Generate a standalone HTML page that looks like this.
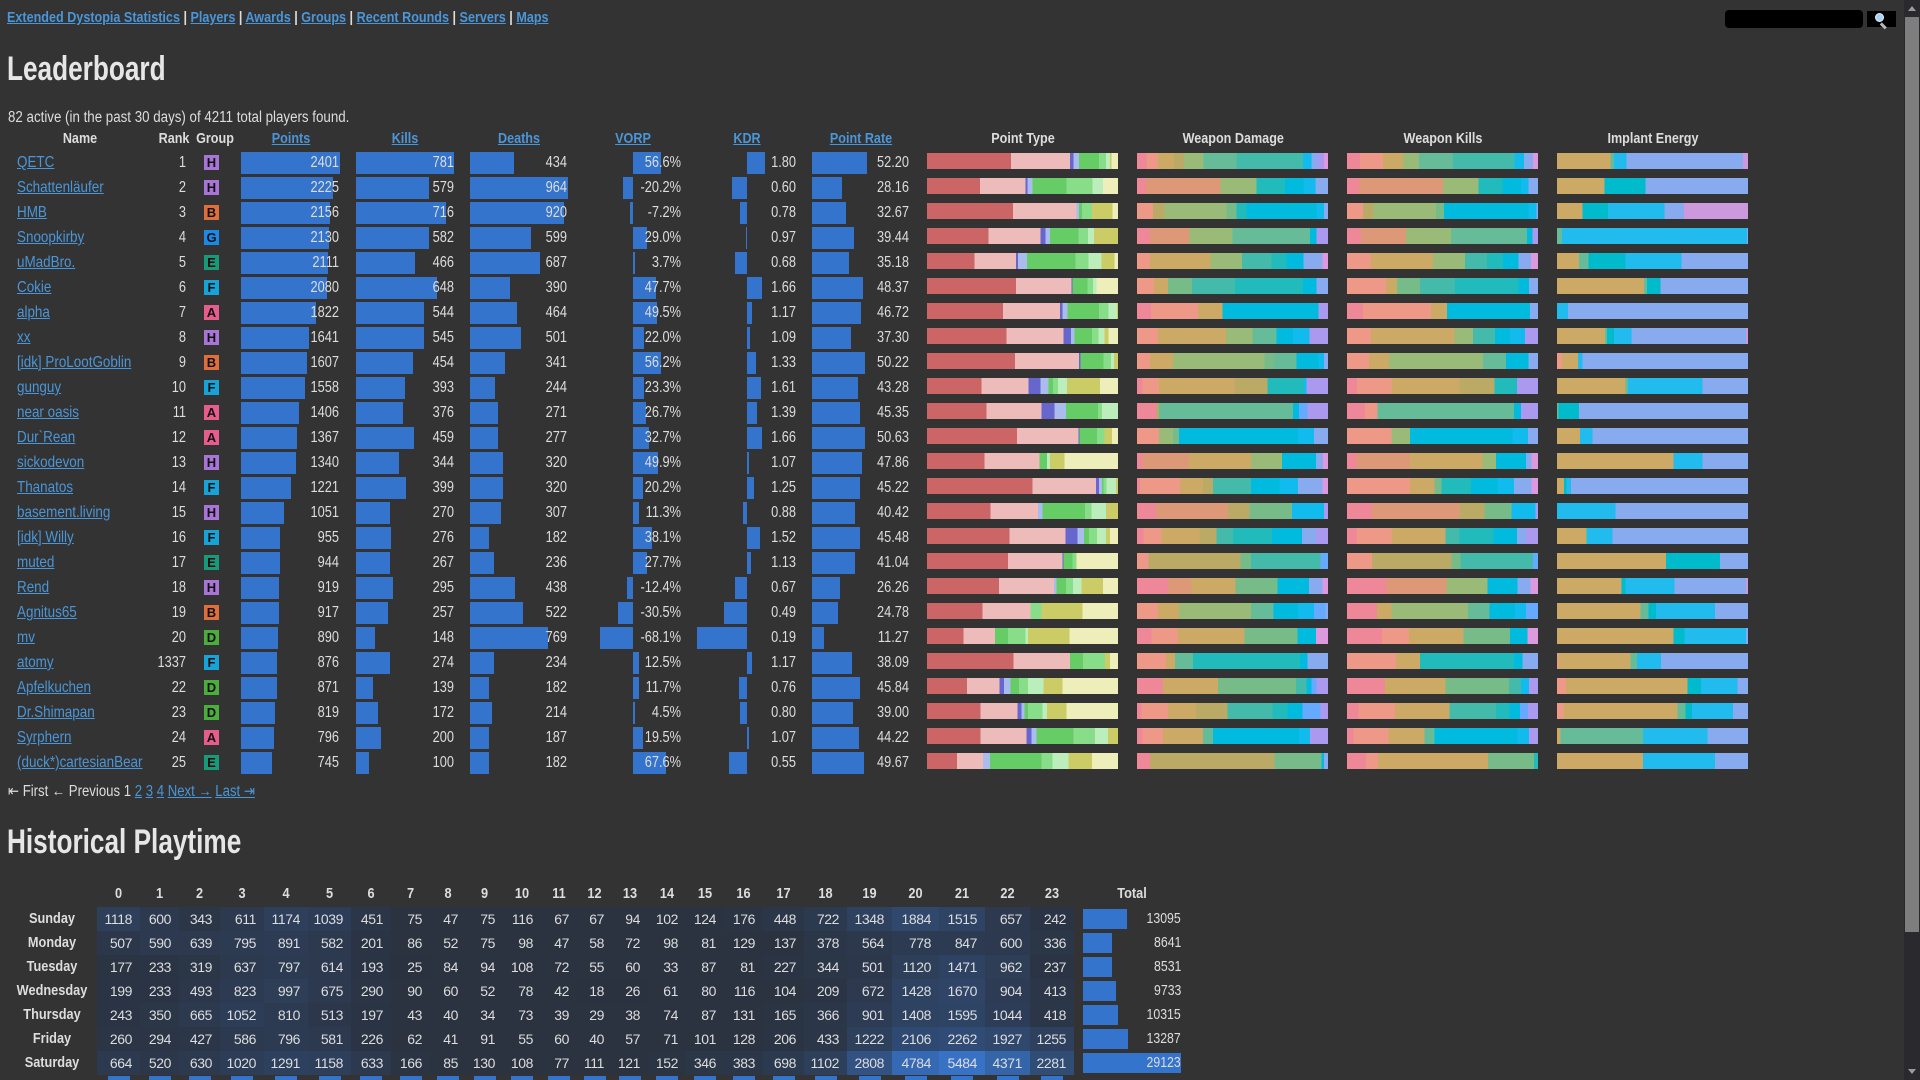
<!DOCTYPE html>
<html><head><meta charset="utf-8"><title>Leaderboard</title>
<style>
*{box-sizing:border-box}
html,body{margin:0;padding:0;overflow:hidden;width:1920px;height:1080px;background:#333}
#w{position:relative;width:1920px;height:1080px;overflow:hidden;background:#333;color:#ddd;font-family:"Liberation Sans","DejaVu Sans",sans-serif}
a{color:#4a96d8;text-decoration:underline}
.nav{position:absolute;left:7px;top:8px;line-height:20px;font-size:15px;font-weight:bold;white-space:nowrap;color:#ddd;transform:scaleX(.84);transform-origin:0 50%}
.h1{position:absolute;left:7px;font-size:34px;font-weight:bold;line-height:40px;color:#e6e6e6;white-space:nowrap;transform:scaleX(.77);transform-origin:0 50%}
.info{position:absolute;left:8px;top:108px;line-height:20px;font-size:15.5px;white-space:nowrap;transform:scaleX(.86);transform-origin:0 50%}
.hd{position:absolute;left:0;top:126px;width:1904px;height:25px;line-height:25px;font-size:15px;font-weight:bold;white-space:nowrap}
.hd>*{position:absolute;top:0;width:120px;text-align:center;transform:scaleX(.84)}
.r{position:absolute;left:0;width:1904px;height:25px;line-height:25px;font-size:16px;white-space:nowrap}
.r>*{position:absolute;top:0}
.r a{left:17px;font-size:16px;transform:scaleX(.84);transform-origin:0 50%}
.r span{text-align:right;transform:scaleX(.8);transform-origin:100% 50%}
.r b{top:2px;height:22px;background:#3474cc}
.r i{top:3px;height:16px;width:191px}
.k{left:146px;width:40px}
.r .g{left:204px;top:5px;width:15px;height:15px;line-height:16px;font-size:13px;font-weight:bold;color:#111;text-align:center;transform:none}
.H{background:#a875d6}.B{background:#de6f3d}.G{background:#1a8ae6}.E{background:#17997a}.F{background:#17a2d8}.A{background:#e65c8c}.D{background:#4aad3c}
.c1{left:241px}.x1{left:241px;width:98px}
.c2{left:356px}.x2{left:356px;width:98px}
.c3{left:470px}.x3{left:470px;width:97px}
.x4{left:590px;width:91px}
.x5{left:700px;width:96px}
.c6{left:812px}.x6{left:812px;width:97px}
.s1{left:927px}.s2{left:1137px}.s3{left:1347px}.s4{left:1557px}
.pg{position:absolute;left:8px;top:779px;line-height:25px;font-size:15.5px;white-space:nowrap;transform:scaleX(.85);transform-origin:0 50%}
.grid{position:absolute;left:97px;display:grid;grid-template-columns:43px 39px 41px 44px 44px 43px 40px 39px 36px 37px 38px 36px 35px 36px 38px 38px 39px 41px 43px 45px 47px 46px 45px 44px;grid-auto-rows:24px;font-size:15px;line-height:24px}
.hh{top:882px;font-weight:bold}
.hh>div{text-align:center;transform:scaleX(.85)}
.hm{top:907px;background:#2b323f}
.hm i{font-style:normal;text-align:right;padding-right:8px;font-size:14px;letter-spacing:-.4px;background:rgba(56,114,196,var(--a,0))}
.days{position:absolute;left:0;top:907px;width:104px;font-size:15px;font-weight:bold;line-height:24px;text-align:center}
.days div{transform:scaleX(.85)}
.tot{position:absolute;left:1083px;top:882px;width:98px;font-size:15px;line-height:24px}
.tot div{position:relative;height:24px;text-align:right}
.tot b{position:absolute;left:0;top:2px;height:20px;background:#3474cc}
.tot span{position:relative;display:inline-block;transform:scaleX(.82);transform-origin:100% 50%}
.bot{top:1076px}
.bot>div{display:flex;justify-content:center}
.bot b{width:22px;height:4px;background:#3474cc;display:block}
</style></head>
<body><div id="w">
<div class="nav"><a>Extended Dystopia Statistics</a> | <a>Players</a> | <a>Awards</a> | <a>Groups</a> | <a>Recent Rounds</a> | <a>Servers</a> | <a>Maps</a></div>

<div style="position:absolute;left:1725px;top:10px;width:138px;height:18px;background:#000;border-radius:4px"></div>
<div style="position:absolute;left:1867px;top:11px;width:29px;height:16px;background:#000"></div>
<div style="position:absolute;left:1875px;top:13px;width:9px;height:9px;border-radius:50%;background:#a8d4f4;border:1.5px solid #dff0fc"></div>
<div style="position:absolute;left:1881px;top:22px;width:7px;height:2.5px;background:#b8b8b8;transform:rotate(45deg);transform-origin:0 50%"></div>

<div style="position:absolute;left:1904px;top:0;width:16px;height:1080px;background:#2a2a2e"></div>
<div style="position:absolute;left:1905px;top:17px;width:14px;height:915px;background:#7e7e7e"></div>
<div style="position:absolute;left:1908px;top:6px;width:0;height:0;border-left:4px solid transparent;border-right:4px solid transparent;border-bottom:5px solid #9a9a9a"></div>
<div style="position:absolute;left:1908px;top:1069px;width:0;height:0;border-left:4px solid transparent;border-right:4px solid transparent;border-top:5px solid #9a9a9a"></div>

<div class="h1" style="top:49px">Leaderboard</div>
<div class="info">82 active (in the past 30 days) of 4211 total players found.</div>

<div class="hd">
<div style="left:20px">Name</div><div style="left:114px">Rank</div><div style="left:155px">Group</div>
<div style="left:231px"><a>Points</a></div><div style="left:345px"><a>Kills</a></div><div style="left:459px"><a>Deaths</a></div>
<div style="left:573px"><a>VORP</a></div><div style="left:687px"><a>KDR</a></div><div style="left:801px"><a>Point Rate</a></div>
<div style="left:963px">Point Type</div><div style="left:1173px">Weapon Damage</div><div style="left:1383px">Weapon Kills</div><div style="left:1593px">Implant Energy</div>
</div>

<div class="r" style="top:150px"><a>QETC</a><span class="k">1</span><span class="g H">H</span><b class="c1" style="width:99px"></b><span class="x1">2401</span><b class="c2" style="width:98px"></b><span class="x2">781</span><b class="c3" style="width:44.1px"></b><span class="x3">434</span><b style="left:633px;width:27.7px"></b><span class="x4">56.6%</span><b style="left:747px;width:17.6px"></b><span class="x5">1.80</span><b class="c6" style="width:55px"></b><span class="x6">52.20</span>
<i class="s1" style="background:linear-gradient(90deg,#c66 0 44%,#ebb 0 75%,#66c 0 76.6%,#abe 0 79.6%,#6c6 0 90%,#8d8 0 93.6%,#beb 0 95.8%,#cc6 0 96.6%,#eeb 0)"></i>
<i class="s2" style="background:linear-gradient(90deg,#e89 0 5%,#e98 0 11%,#ca6 0 19.5%,#ba6 0 24.7%,#9b7 0 34.8%,#6b9 0 52%,#4ba 0 87%,#1be 0 91.4%,#8ae 0 94.5%,#a9e 0 98%,#d9d 0)"></i>
<i class="s3" style="background:linear-gradient(90deg,#e89 0 6.7%,#e98 0 18.9%,#ca6 0 29.4%,#9b7 0 37.7%,#6b9 0 55.6%,#4ba 0 87.6%,#1be 0 92.7%,#8ae 0 97.5%,#d9d 0)"></i>
<i class="s4" style="background:linear-gradient(90deg,#ca6 0 28.1%,#6b9 0 29.8%,#2be 0 36.5%,#8ae 0 97.5%,#c9d 0)"></i></div>

<div class="r" style="top:175px"><a>Schattenläufer</a><span class="k">2</span><span class="g H">H</span><b class="c1" style="width:91.7px"></b><span class="x1">2225</span><b class="c2" style="width:72.7px"></b><span class="x2">579</span><b class="c3" style="width:98px"></b><span class="x3">964</span><b style="left:623.1px;width:9.9px"></b><span class="x4">-20.2%</span><b style="left:731.7px;width:15.3px"></b><span class="x5">0.60</span><b class="c6" style="width:29.7px"></b><span class="x6">28.16</span>
<i class="s1" style="background:linear-gradient(90deg,#c66 0 27.7%,#ebb 0 51.7%,#66c 0 52.5%,#abe 0 55.3%,#6c6 0 73%,#8d8 0 86.6%,#beb 0 92.2%,#eeb 0)"></i>
<i class="s2" style="background:linear-gradient(90deg,#e89 0 4.8%,#d97 0 43.6%,#9b7 0 62.5%,#2bb 0 77.6%,#0bd 0 87.2%,#1be 0 93.5%,#8ae 0)"></i>
<i class="s3" style="background:linear-gradient(90deg,#e89 0 6.3%,#d97 0 50.3%,#9b7 0 68.8%,#2bb 0 81.3%,#0bd 0 91.2%,#1be 0 95%,#8ae 0)"></i>
<i class="s4" style="background:linear-gradient(90deg,#ca6 0 24.9%,#0bc 0 46.3%,#8ae 0)"></i></div>

<div class="r" style="top:200px"><a>HMB</a><span class="k">3</span><span class="g B">B</span><b class="c1" style="width:88.9px"></b><span class="x1">2156</span><b class="c2" style="width:89.8px"></b><span class="x2">716</span><b class="c3" style="width:93.5px"></b><span class="x3">920</span><b style="left:629.5px;width:3.5px"></b><span class="x4">-7.2%</span><b style="left:739.5px;width:7.5px"></b><span class="x5">0.78</span><b class="c6" style="width:34.4px"></b><span class="x6">32.67</span>
<i class="s1" style="background:linear-gradient(90deg,#c66 0 45%,#ebb 0 78.4%,#abe 0 79.6%,#6c6 0 81.2%,#8d8 0 86.4%,#cc6 0 97%,#eeb 0)"></i>
<i class="s2" style="background:linear-gradient(90deg,#e98 0 8.4%,#ba6 0 14.3%,#9b7 0 46.8%,#7b8 0 52%,#2bb 0 57.2%,#0bd 0 93.9%,#1be 0 97.9%,#8ae 0)"></i>
<i class="s3" style="background:linear-gradient(90deg,#e98 0 8.4%,#ba6 0 14%,#9b7 0 46.5%,#7b8 0 50.7%,#0bd 0 95%,#1be 0 99.2%,#8ae 0)"></i>
<i class="s4" style="background:linear-gradient(90deg,#ca6 0 13.4%,#0bc 0 26.6%,#2be 0 56.4%,#8ae 0 66.5%,#c9d 0)"></i></div>

<div class="r" style="top:225px"><a>Snoopkirby</a><span class="k">4</span><span class="g G">G</span><b class="c1" style="width:87.8px"></b><span class="x1">2130</span><b class="c2" style="width:73px"></b><span class="x2">582</span><b class="c3" style="width:60.9px"></b><span class="x3">599</span><b style="left:633px;width:14.2px"></b><span class="x4">29.0%</span><b style="left:746px;width:1px"></b><span class="x5">0.97</span><b class="c6" style="width:41.6px"></b><span class="x6">39.44</span>
<i class="s1" style="background:linear-gradient(90deg,#c66 0 32.3%,#ebb 0 59.5%,#66c 0 62%,#abe 0 64.3%,#6c6 0 79.4%,#8d8 0 84.4%,#beb 0 87.4%,#cc6 0)"></i>
<i class="s2" style="background:linear-gradient(90deg,#e89 0 6.9%,#d97 0 27.5%,#9b7 0 50%,#6b9 0 90.6%,#0bd 0 94%,#a9e 0)"></i>
<i class="s3" style="background:linear-gradient(90deg,#e89 0 7.3%,#d97 0 31%,#9b7 0 54.5%,#6b9 0 94.3%,#0bd 0 97%,#a9e 0)"></i>
<i class="s4" style="background:linear-gradient(90deg,#6b9 0 2.5%,#2be 0 99.4%,#8ae 0)"></i></div>

<div class="r" style="top:250px"><a>uMadBro.</a><span class="k">5</span><span class="g E">E</span><b class="c1" style="width:87px"></b><span class="x1">2111</span><b class="c2" style="width:58.5px"></b><span class="x2">466</span><b class="c3" style="width:69.8px"></b><span class="x3">687</span><b style="left:633px;width:1.8px"></b><span class="x4">3.7%</span><b style="left:735.4px;width:11.6px"></b><span class="x5">0.68</span><b class="c6" style="width:37.1px"></b><span class="x6">35.18</span>
<i class="s1" style="background:linear-gradient(90deg,#c66 0 25%,#ebb 0 46.7%,#66c 0 47.7%,#abe 0 52.3%,#6c6 0 77.8%,#8d8 0 84.6%,#beb 0 91.4%,#cc6 0 98.2%,#eeb 0)"></i>
<i class="s2" style="background:linear-gradient(90deg,#e98 0 6.9%,#ca6 0 38.4%,#9b7 0 55.1%,#4ba 0 70.4%,#2bb 0 78.2%,#0bd 0 87.2%,#8ae 0 97%,#d9d 0)"></i>
<i class="s3" style="background:linear-gradient(90deg,#e98 0 12.6%,#ca6 0 45%,#9b7 0 61.8%,#4ba 0 73.4%,#2bb 0 81.8%,#0bd 0 89.7%,#8ae 0 96.4%,#d9d 0)"></i>
<i class="s4" style="background:linear-gradient(90deg,#ca6 0 11.5%,#6b9 0 16.6%,#0bc 0 35.8%,#2be 0 65.2%,#8ae 0)"></i></div>

<div class="r" style="top:275px"><a>Cokie</a><span class="k">6</span><span class="g F">F</span><b class="c1" style="width:85.8px"></b><span class="x1">2080</span><b class="c2" style="width:81.3px"></b><span class="x2">648</span><b class="c3" style="width:39.6px"></b><span class="x3">390</span><b style="left:633px;width:23.4px"></b><span class="x4">47.7%</span><b style="left:747px;width:15.2px"></b><span class="x5">1.66</span><b class="c6" style="width:51px"></b><span class="x6">48.37</span>
<i class="s1" style="background:linear-gradient(90deg,#c66 0 46.5%,#ebb 0 75.6%,#66c 0 76.2%,#6c6 0 84%,#8d8 0 87%,#beb 0 88.8%,#eeb 0)"></i>
<i class="s2" style="background:linear-gradient(90deg,#e98 0 9%,#ca6 0 16.3%,#7b8 0 28.9%,#4ba 0 51.4%,#2bb 0 87%,#0bd 0 94%,#8ae 0)"></i>
<i class="s3" style="background:linear-gradient(90deg,#e98 0 20.3%,#ca6 0 26.2%,#7b8 0 38.2%,#4ba 0 56.6%,#2bb 0 89.7%,#0bd 0 95.4%,#8ae 0)"></i>
<i class="s4" style="background:linear-gradient(90deg,#ca6 0 45.5%,#6b9 0 47.2%,#0bc 0 54.3%,#8ae 0)"></i></div>

<div class="r" style="top:300px"><a>alpha</a><span class="k">7</span><span class="g A">A</span><b class="c1" style="width:75.1px"></b><span class="x1">1822</span><b class="c2" style="width:68.3px"></b><span class="x2">544</span><b class="c3" style="width:47.2px"></b><span class="x3">464</span><b style="left:633px;width:24.3px"></b><span class="x4">49.5%</span><b style="left:747px;width:4.7px"></b><span class="x5">1.17</span><b class="c6" style="width:49.2px"></b><span class="x6">46.72</span>
<i class="s1" style="background:linear-gradient(90deg,#c66 0 39.7%,#ebb 0 69.7%,#66c 0 71%,#abe 0 73.6%,#6c6 0 90%,#8d8 0 95%,#beb 0 99.4%,#cc6 0)"></i>
<i class="s2" style="background:linear-gradient(90deg,#e89 0 7.3%,#e98 0 32%,#ca6 0 44.7%,#0bd 0 95%,#a9e 0)"></i>
<i class="s3" style="background:linear-gradient(90deg,#e89 0 8.4%,#e98 0 44%,#ca6 0 52.4%,#0bd 0 95.8%,#8ae 0)"></i>
<i class="s4" style="background:linear-gradient(90deg,#2be 0 5.7%,#8ae 0)"></i></div>

<div class="r" style="top:325px"><a>xx</a><span class="k">8</span><span class="g H">H</span><b class="c1" style="width:67.7px"></b><span class="x1">1641</span><b class="c2" style="width:68.4px"></b><span class="x2">545</span><b class="c3" style="width:50.9px"></b><span class="x3">501</span><b style="left:633px;width:10.8px"></b><span class="x4">22.0%</span><b style="left:747px;width:2.6px"></b><span class="x5">1.09</span><b class="c6" style="width:39.3px"></b><span class="x6">37.30</span>
<i class="s1" style="background:linear-gradient(90deg,#c66 0 41.7%,#ebb 0 71.5%,#66c 0 75.4%,#abe 0 77.2%,#6c6 0 86.4%,#8d8 0 89.8%,#beb 0 93%,#cc6 0 95%,#eeb 0)"></i>
<i class="s2" style="background:linear-gradient(90deg,#e98 0 11%,#ca6 0 46.7%,#9b7 0 60.4%,#6b9 0 73%,#0bd 0 81.8%,#1be 0 90.2%,#a9e 0)"></i>
<i class="s3" style="background:linear-gradient(90deg,#e98 0 12.6%,#ca6 0 56.2%,#9b7 0 66%,#4ba 0 77.6%,#0bd 0 85.3%,#1be 0 93.3%,#a9e 0)"></i>
<i class="s4" style="background:linear-gradient(90deg,#ca6 0 25.2%,#6b9 0 26.2%,#0bc 0 29.8%,#2be 0 39%,#8ae 0 99%,#c9d 0)"></i></div>

<div class="r" style="top:350px"><a>[idk] ProLootGoblin</a><span class="k">9</span><span class="g B">B</span><b class="c1" style="width:66.3px"></b><span class="x1">1607</span><b class="c2" style="width:57px"></b><span class="x2">454</span><b class="c3" style="width:34.7px"></b><span class="x3">341</span><b style="left:633px;width:27.5px"></b><span class="x4">56.2%</span><b style="left:747px;width:8.6px"></b><span class="x5">1.33</span><b class="c6" style="width:52.9px"></b><span class="x6">50.22</span>
<i class="s1" style="background:linear-gradient(90deg,#c66 0 46%,#ebb 0 79.6%,#66c 0 80.4%,#6c6 0 92.4%,#8d8 0 96.4%,#beb 0 98%,#cc6 0)"></i>
<i class="s2" style="background:linear-gradient(90deg,#e98 0 6.9%,#ca6 0 18.9%,#9b7 0 66.7%,#7b8 0 71.9%,#6b9 0 83.4%,#0bd 0 95%,#1be 0 98%,#8ae 0)"></i>
<i class="s3" style="background:linear-gradient(90deg,#e98 0 11.5%,#ca6 0 22%,#9b7 0 71.3%,#6b9 0 83.2%,#0bd 0 95%,#8ae 0)"></i>
<i class="s4" style="background:linear-gradient(90deg,#e98 0 2.5%,#ca6 0 10.9%,#2be 0 13.4%,#8ae 0)"></i></div>

<div class="r" style="top:375px"><a>gunguy</a><span class="k">10</span><span class="g F">F</span><b class="c1" style="width:64.2px"></b><span class="x1">1558</span><b class="c2" style="width:49.3px"></b><span class="x2">393</span><b class="c3" style="width:24.8px"></b><span class="x3">244</span><b style="left:633px;width:11.4px"></b><span class="x4">23.3%</span><b style="left:747px;width:14.3px"></b><span class="x5">1.61</span><b class="c6" style="width:45.6px"></b><span class="x6">43.28</span>
<i class="s1" style="background:linear-gradient(90deg,#c66 0 28.6%,#ebb 0 53.2%,#66c 0 59.4%,#abe 0 63.6%,#6c6 0 66%,#8d8 0 68.5%,#beb 0 73.3%,#cc6 0 90.6%,#eeb 0)"></i>
<i class="s2" style="background:linear-gradient(90deg,#e89 0 3%,#e98 0 11.6%,#ca6 0 51%,#ba6 0 68.4%,#2bb 0 87.5%,#1be 0 88.7%,#a9e 0)"></i>
<i class="s3" style="background:linear-gradient(90deg,#e89 0 5.2%,#e98 0 23.4%,#ca6 0 58.9%,#ba6 0 77.1%,#2bb 0 88.9%,#a9e 0)"></i>
<i class="s4" style="background:linear-gradient(90deg,#ca6 0 35.9%,#6b9 0 37.2%,#2be 0 76.2%,#8ae 0)"></i></div>

<div class="r" style="top:400px"><a>near oasis</a><span class="k">11</span><span class="g A">A</span><b class="c1" style="width:58px"></b><span class="x1">1406</span><b class="c2" style="width:47.2px"></b><span class="x2">376</span><b class="c3" style="width:27.5px"></b><span class="x3">271</span><b style="left:633px;width:13.1px"></b><span class="x4">26.7%</span><b style="left:747px;width:9.9px"></b><span class="x5">1.39</span><b class="c6" style="width:47.8px"></b><span class="x6">45.35</span>
<i class="s1" style="background:linear-gradient(90deg,#c66 0 31.2%,#ebb 0 60%,#66c 0 66.7%,#abe 0 72.8%,#6c6 0 89.6%,#8d8 0 91.7%,#beb 0)"></i>
<i class="s2" style="background:linear-gradient(90deg,#e89 0 10.2%,#ba6 0 11.6%,#6b9 0 81.8%,#0bd 0 84.9%,#6af 0 89.2%,#a9e 0)"></i>
<i class="s3" style="background:linear-gradient(90deg,#e89 0 9.5%,#e98 0 15.9%,#6b9 0 87.5%,#0bd 0 91%,#a9e 0)"></i>
<i class="s4" style="background:linear-gradient(90deg,#6b9 0 0.7%,#0bc 0 11.5%,#8ae 0)"></i></div>

<div class="r" style="top:425px"><a>Dur`Rean</a><span class="k">12</span><span class="g A">A</span><b class="c1" style="width:56.4px"></b><span class="x1">1367</span><b class="c2" style="width:57.6px"></b><span class="x2">459</span><b class="c3" style="width:28.2px"></b><span class="x3">277</span><b style="left:633px;width:16px"></b><span class="x4">32.7%</span><b style="left:747px;width:15.2px"></b><span class="x5">1.66</span><b class="c6" style="width:53.3px"></b><span class="x6">50.63</span>
<i class="s1" style="background:linear-gradient(90deg,#c66 0 47%,#ebb 0 79.2%,#66c 0 79.9%,#6c6 0 89.1%,#8d8 0 93%,#cc6 0 96.9%,#eeb 0)"></i>
<i class="s2" style="background:linear-gradient(90deg,#e98 0 11.6%,#9b7 0 18.9%,#7b8 0 22%,#0bd 0 84.4%,#1be 0 92.7%,#8ae 0)"></i>
<i class="s3" style="background:linear-gradient(90deg,#e98 0 23.4%,#9b7 0 32.9%,#0bd 0 86.7%,#1be 0 94.8%,#8ae 0)"></i>
<i class="s4" style="background:linear-gradient(90deg,#ca6 0 12%,#2be 0 18.6%,#8ae 0)"></i></div>

<div class="r" style="top:450px"><a>sickodevon</a><span class="k">13</span><span class="g H">H</span><b class="c1" style="width:55.3px"></b><span class="x1">1340</span><b class="c2" style="width:43.2px"></b><span class="x2">344</span><b class="c3" style="width:32.5px"></b><span class="x3">320</span><b style="left:633px;width:24.5px"></b><span class="x4">49.9%</span><b style="left:747px;width:2px"></b><span class="x5">1.07</span><b class="c6" style="width:50.4px"></b><span class="x6">47.86</span>
<i class="s1" style="background:linear-gradient(90deg,#c66 0 30.2%,#ebb 0 58.9%,#6c6 0 62.9%,#beb 0 64.5%,#cc6 0 71.9%,#eeb 0)"></i>
<i class="s2" style="background:linear-gradient(90deg,#e89 0 3%,#d97 0 27.3%,#ca6 0 59.7%,#9b7 0 75.9%,#0bd 0 93.6%,#8ae 0 97.4%,#d9d 0)"></i>
<i class="s3" style="background:linear-gradient(90deg,#e89 0 4.9%,#d97 0 32.9%,#ca6 0 71%,#9b7 0 78%,#0bd 0 93.6%,#8ae 0 96.7%,#d9d 0)"></i>
<i class="s4" style="background:linear-gradient(90deg,#ca6 0 61.1%,#2be 0 76.2%,#8ae 0)"></i></div>

<div class="r" style="top:475px"><a>Thanatos</a><span class="k">14</span><span class="g F">F</span><b class="c1" style="width:50.3px"></b><span class="x1">1221</span><b class="c2" style="width:50.1px"></b><span class="x2">399</span><b class="c3" style="width:32.5px"></b><span class="x3">320</span><b style="left:633px;width:9.9px"></b><span class="x4">20.2%</span><b style="left:747px;width:6.7px"></b><span class="x5">1.25</span><b class="c6" style="width:47.6px"></b><span class="x6">45.22</span>
<i class="s1" style="background:linear-gradient(90deg,#c66 0 55.3%,#ebb 0 88.6%,#66c 0 90%,#abe 0 91.5%,#6c6 0 92.4%,#8d8 0 94.1%,#beb 0 99%,#cc6 0)"></i>
<i class="s2" style="background:linear-gradient(90deg,#e89 0 1.6%,#e98 0 22.4%,#ca6 0 34.5%,#ba6 0 39.7%,#4ba 0 59.7%,#0bd 0 74.5%,#1be 0 84.4%,#8ae 0 97%,#d9d 0)"></i>
<i class="s3" style="background:linear-gradient(90deg,#e98 0 32.9%,#ca6 0 45.9%,#7b8 0 49.4%,#2bb 0 65%,#0bd 0 78.9%,#1be 0 87.5%,#8ae 0 96.7%,#d9d 0)"></i>
<i class="s4" style="background:linear-gradient(90deg,#ca6 0 3.6%,#0bc 0 5%,#2be 0 7.3%,#8ae 0)"></i></div>

<div class="r" style="top:500px"><a>basement.living</a><span class="k">15</span><span class="g H">H</span><b class="c1" style="width:43.3px"></b><span class="x1">1051</span><b class="c2" style="width:33.9px"></b><span class="x2">270</span><b class="c3" style="width:31.2px"></b><span class="x3">307</span><b style="left:633px;width:5.5px"></b><span class="x4">11.3%</span><b style="left:743.2px;width:3.8px"></b><span class="x5">0.88</span><b class="c6" style="width:42.6px"></b><span class="x6">40.42</span>
<i class="s1" style="background:linear-gradient(90deg,#c66 0 33.3%,#ebb 0 58.1%,#abe 0 60.5%,#6c6 0 82.8%,#8d8 0 86%,#beb 0 93.8%,#cc6 0)"></i>
<i class="s2" style="background:linear-gradient(90deg,#e89 0 9.9%,#d97 0 47.6%,#ba6 0 58.9%,#7b8 0 81.1%,#1be 0 98%,#a9e 0)"></i>
<i class="s3" style="background:linear-gradient(90deg,#e89 0 13%,#d97 0 58.9%,#ba6 0 71.9%,#7b8 0 86.1%,#1be 0 98.8%,#a9e 0)"></i>
<i class="s4" style="background:linear-gradient(90deg,#2be 0 30.7%,#8ae 0)"></i></div>

<div class="r" style="top:525px"><a>[idk] Willy</a><span class="k">16</span><span class="g F">F</span><b class="c1" style="width:39.4px"></b><span class="x1">955</span><b class="c2" style="width:34.6px"></b><span class="x2">276</span><b class="c3" style="width:18.5px"></b><span class="x3">182</span><b style="left:633px;width:18.7px"></b><span class="x4">38.1%</span><b style="left:747px;width:12.6px"></b><span class="x5">1.52</span><b class="c6" style="width:47.9px"></b><span class="x6">45.48</span>
<i class="s1" style="background:linear-gradient(90deg,#c66 0 43.2%,#ebb 0 72.4%,#66c 0 78.7%,#abe 0 82.1%,#6c6 0 84.9%,#8d8 0 88.9%,#beb 0 93.6%,#cc6 0 95.7%,#eeb 0)"></i>
<i class="s2" style="background:linear-gradient(90deg,#e89 0 3.3%,#e98 0 12.8%,#ca6 0 32.8%,#ba6 0 41.5%,#4ba 0 50.2%,#2bb 0 70.7%,#0bd 0 86.3%,#8ae 0 93.6%,#a9e 0)"></i>
<i class="s3" style="background:linear-gradient(90deg,#e89 0 4.9%,#e98 0 23.4%,#ca6 0 51.6%,#4ba 0 59%,#2bb 0 76.6%,#0bd 0 88.9%,#8ae 0 93.6%,#a9e 0)"></i>
<i class="s4" style="background:linear-gradient(90deg,#ca6 0 15.1%,#6b9 0 15.8%,#2be 0 29%,#8ae 0)"></i></div>

<div class="r" style="top:550px"><a>muted</a><span class="k">17</span><span class="g E">E</span><b class="c1" style="width:38.9px"></b><span class="x1">944</span><b class="c2" style="width:33.5px"></b><span class="x2">267</span><b class="c3" style="width:24px"></b><span class="x3">236</span><b style="left:633px;width:13.6px"></b><span class="x4">27.7%</span><b style="left:747px;width:3.7px"></b><span class="x5">1.13</span><b class="c6" style="width:43.2px"></b><span class="x6">41.04</span>
<i class="s1" style="background:linear-gradient(90deg,#c66 0 42.3%,#ebb 0 70.9%,#66c 0 71.4%,#6c6 0 76.3%,#8d8 0 78.3%,#eeb 0)"></i>
<i class="s2" style="background:linear-gradient(90deg,#e98 0 5.9%,#ba6 0 54.2%,#7b8 0 59.7%,#4ba 0 96.2%,#6af 0)"></i>
<i class="s3" style="background:linear-gradient(90deg,#e98 0 13%,#ba6 0 54.6%,#7b8 0 59.3%,#4ba 0 97.4%,#6af 0)"></i>
<i class="s4" style="background:linear-gradient(90deg,#ca6 0 57.1%,#0bc 0 85.4%,#8ae 0)"></i></div>

<div class="r" style="top:575px"><a>Rend</a><span class="k">18</span><span class="g H">H</span><b class="c1" style="width:37.9px"></b><span class="x1">919</span><b class="c2" style="width:37px"></b><span class="x2">295</span><b class="c3" style="width:44.5px"></b><span class="x3">438</span><b style="left:626.9px;width:6.1px"></b><span class="x4">-12.4%</span><b style="left:735px;width:12px"></b><span class="x5">0.67</span><b class="c6" style="width:27.7px"></b><span class="x6">26.26</span>
<i class="s1" style="background:linear-gradient(90deg,#c66 0 37.6%,#ebb 0 66.4%,#abe 0 67.8%,#6c6 0 72.8%,#8d8 0 76.4%,#beb 0 80.8%,#cc6 0 92.2%,#eeb 0)"></i>
<i class="s2" style="background:linear-gradient(90deg,#e89 0 16.3%,#d97 0 28.5%,#ca6 0 51.6%,#7b8 0 73.6%,#0bd 0 90.1%,#8ae 0 97%,#d9d 0)"></i>
<i class="s3" style="background:linear-gradient(90deg,#e89 0 20.8%,#d97 0 52%,#9b7 0 73.6%,#0bd 0 89.2%,#8ae 0 96.2%,#d9d 0)"></i>
<i class="s4" style="background:linear-gradient(90deg,#ca6 0 33.7%,#0bc 0 35.9%,#2be 0 61.5%,#8ae 0 99%,#c9d 0)"></i></div>

<div class="r" style="top:600px"><a>Agnitus65</a><span class="k">19</span><span class="g B">B</span><b class="c1" style="width:37.8px"></b><span class="x1">917</span><b class="c2" style="width:32.2px"></b><span class="x2">257</span><b class="c3" style="width:53.1px"></b><span class="x3">522</span><b style="left:618.1px;width:14.9px"></b><span class="x4">-30.5%</span><b style="left:724px;width:23px"></b><span class="x5">0.49</span><b class="c6" style="width:26.1px"></b><span class="x6">24.78</span>
<i class="s1" style="background:linear-gradient(90deg,#c66 0 29.1%,#ebb 0 54.1%,#8d8 0 60%,#cc6 0 81.3%,#eeb 0)"></i>
<i class="s2" style="background:linear-gradient(90deg,#e98 0 11.1%,#ca6 0 22%,#9b7 0 59.7%,#6b9 0 71.4%,#0bd 0 84.4%,#1be 0 92.7%,#6af 0 98.8%,#8ae 0)"></i>
<i class="s3" style="background:linear-gradient(90deg,#e89 0 15.6%,#ca6 0 23.4%,#9b7 0 63.3%,#6b9 0 74.5%,#0bd 0 88%,#1be 0 93.6%,#6af 0)"></i>
<i class="s4" style="background:linear-gradient(90deg,#ca6 0 43.6%,#6b9 0 47.9%,#0bc 0 51.9%,#2be 0 82.8%,#8ae 0)"></i></div>

<div class="r" style="top:625px"><a>mv</a><span class="k">20</span><span class="g D">D</span><b class="c1" style="width:36.7px"></b><span class="x1">890</span><b class="c2" style="width:18.6px"></b><span class="x2">148</span><b class="c3" style="width:78.2px"></b><span class="x3">769</span><b style="left:599.6px;width:33.4px"></b><span class="x4">-68.1%</span><b style="left:697.2px;width:49.8px"></b><span class="x5">0.19</span><b class="c6" style="width:11.9px"></b><span class="x6">11.27</span>
<i class="s1" style="background:linear-gradient(90deg,#c66 0 19.2%,#ebb 0 35.5%,#6c6 0 42.3%,#8d8 0 51.6%,#beb 0 53%,#cc6 0 74.5%,#eeb 0)"></i>
<i class="s2" style="background:linear-gradient(90deg,#e89 0 7.6%,#e98 0 21.5%,#ca6 0 56.2%,#7b8 0 84%,#0bd 0 93.6%,#d9d 0)"></i>
<i class="s3" style="background:linear-gradient(90deg,#e89 0 18.2%,#e98 0 32.4%,#ca6 0 61%,#7b8 0 85.4%,#0bd 0 94.5%,#d9d 0)"></i>
<i class="s4" style="background:linear-gradient(90deg,#ca6 0 60.9%,#0bc 0 66.7%,#2be 0 99%,#8ae 0)"></i></div>

<div class="r" style="top:650px"><a>atomy</a><span class="k">1337</span><span class="g F">F</span><b class="c1" style="width:36.1px"></b><span class="x1">876</span><b class="c2" style="width:34.4px"></b><span class="x2">274</span><b class="c3" style="width:23.8px"></b><span class="x3">234</span><b style="left:633px;width:6.1px"></b><span class="x4">12.5%</span><b style="left:747px;width:4.7px"></b><span class="x5">1.17</span><b class="c6" style="width:40.1px"></b><span class="x6">38.09</span>
<i class="s1" style="background:linear-gradient(90deg,#c66 0 45.4%,#ebb 0 75%,#6c6 0 81.6%,#8d8 0 93.2%,#cc6 0 95.7%,#eeb 0)"></i>
<i class="s2" style="background:linear-gradient(90deg,#e98 0 15.1%,#ca6 0 19.8%,#6b9 0 29.3%,#2bb 0 85.4%,#0bd 0 89.2%,#8ae 0)"></i>
<i class="s3" style="background:linear-gradient(90deg,#e98 0 25.6%,#ca6 0 38.1%,#2bb 0 87.5%,#0bd 0 91.9%,#8ae 0)"></i>
<i class="s4" style="background:linear-gradient(90deg,#e98 0 0.7%,#ca6 0 38.4%,#6b9 0 42%,#2be 0 54.5%,#8ae 0)"></i></div>

<div class="r" style="top:675px"><a>Apfelkuchen</a><span class="k">22</span><span class="g D">D</span><b class="c1" style="width:35.9px"></b><span class="x1">871</span><b class="c2" style="width:17.4px"></b><span class="x2">139</span><b class="c3" style="width:18.5px"></b><span class="x3">182</span><b style="left:633px;width:5.7px"></b><span class="x4">11.7%</span><b style="left:738.8px;width:8.2px"></b><span class="x5">0.76</span><b class="c6" style="width:48.3px"></b><span class="x6">45.84</span>
<i class="s1" style="background:linear-gradient(90deg,#c66 0 21%,#ebb 0 38%,#66c 0 40.2%,#abe 0 43.8%,#6c6 0 48.2%,#8d8 0 53%,#beb 0 61%,#cc6 0 70.9%,#eeb 0)"></i>
<i class="s2" style="background:linear-gradient(90deg,#e89 0 13.7%,#ca6 0 42.4%,#7b8 0 83.2%,#4ba 0 88.7%,#0bd 0 91.3%,#6af 0 93.9%,#a9e 0)"></i>
<i class="s3" style="background:linear-gradient(90deg,#e89 0 19.9%,#ca6 0 51.6%,#7b8 0 84.9%,#4ba 0 91%,#1be 0 95.3%,#a9e 0)"></i>
<i class="s4" style="background:linear-gradient(90deg,#e98 0 4.7%,#ca6 0 68.4%,#0bc 0 75.3%,#2be 0 94.4%,#8ae 0)"></i></div>

<div class="r" style="top:700px"><a>Dr.Shimapan</a><span class="k">23</span><span class="g D">D</span><b class="c1" style="width:33.8px"></b><span class="x1">819</span><b class="c2" style="width:21.6px"></b><span class="x2">172</span><b class="c3" style="width:21.8px"></b><span class="x3">214</span><b style="left:633px;width:2.2px"></b><span class="x4">4.5%</span><b style="left:740.3px;width:6.7px"></b><span class="x5">0.80</span><b class="c6" style="width:41.1px"></b><span class="x6">39.00</span>
<i class="s1" style="background:linear-gradient(90deg,#c66 0 28.1%,#ebb 0 47.5%,#66c 0 49.6%,#abe 0 51%,#6c6 0 53%,#8d8 0 60.5%,#beb 0 62.9%,#cc6 0 73%,#eeb 0)"></i>
<i class="s2" style="background:linear-gradient(90deg,#e89 0 2.4%,#e98 0 16.3%,#ca6 0 31%,#ba6 0 47.4%,#4ba 0 71%,#2bb 0 78.8%,#0bd 0 86.6%,#6af 0 96.2%,#a9e 0)"></i>
<i class="s3" style="background:linear-gradient(90deg,#e89 0 6.1%,#e98 0 25.1%,#ca6 0 53.7%,#4ba 0 78%,#2bb 0 85%,#0bd 0 90.5%,#6af 0 94.8%,#a9e 0)"></i>
<i class="s4" style="background:linear-gradient(90deg,#e98 0 3.3%,#ca6 0 63.2%,#6b9 0 67.2%,#0bc 0 70.7%,#2be 0 92.2%,#8ae 0)"></i></div>

<div class="r" style="top:725px"><a>Syrphern</a><span class="k">24</span><span class="g A">A</span><b class="c1" style="width:32.8px"></b><span class="x1">796</span><b class="c2" style="width:25.1px"></b><span class="x2">200</span><b class="c3" style="width:19px"></b><span class="x3">187</span><b style="left:633px;width:9.6px"></b><span class="x4">19.5%</span><b style="left:747px;width:2px"></b><span class="x5">1.07</span><b class="c6" style="width:46.6px"></b><span class="x6">44.22</span>
<i class="s1" style="background:linear-gradient(90deg,#c66 0 28.1%,#ebb 0 52.1%,#66c 0 54.8%,#abe 0 57.2%,#6c6 0 76.6%,#8d8 0 88%,#beb 0 94.8%,#cc6 0)"></i>
<i class="s2" style="background:linear-gradient(90deg,#e89 0 2.9%,#e98 0 13.7%,#ca6 0 34.5%,#6b9 0 39.7%,#0bd 0 84.9%,#1be 0 90.5%,#a9e 0)"></i>
<i class="s3" style="background:linear-gradient(90deg,#e89 0 3.5%,#e98 0 21.7%,#ca6 0 40.7%,#6b9 0 45.9%,#0bd 0 89.2%,#1be 0 95.3%,#a9e 0)"></i>
<i class="s4" style="background:linear-gradient(90deg,#ca6 0 1.9%,#6b9 0 45%,#2be 0 78.8%,#8ae 0)"></i></div>

<div class="r" style="top:750px"><a>(duck*)cartesianBear</a><span class="k">25</span><span class="g E">E</span><b class="c1" style="width:30.7px"></b><span class="x1">745</span><b class="c2" style="width:12.5px"></b><span class="x2">100</span><b class="c3" style="width:18.5px"></b><span class="x3">182</span><b style="left:633px;width:33.1px"></b><span class="x4">67.6%</span><b style="left:729.1px;width:17.9px"></b><span class="x5">0.55</span><b class="c6" style="width:52.3px"></b><span class="x6">49.67</span>
<i class="s1" style="background:linear-gradient(90deg,#c66 0 15.6%,#ebb 0 29.3%,#abe 0 32.9%,#6c6 0 60%,#8d8 0 65.7%,#beb 0 74%,#cc6 0 86.5%,#eeb 0)"></i>
<i class="s2" style="background:linear-gradient(90deg,#e89 0 6.8%,#ba6 0 71.9%,#7b8 0 96.7%,#0bd 0 98%,#8ae 0)"></i>
<i class="s3" style="background:linear-gradient(90deg,#e89 0 10%,#e98 0 16.1%,#ca6 0 73.7%,#7b8 0 98%,#2bb 0)"></i>
<i class="s4" style="background:linear-gradient(90deg,#ca6 0 45%,#2be 0 82.8%,#8ae 0)"></i></div>

<div class="pg">⇤ First ← Previous 1 <a>2</a> <a>3</a> <a>4</a> <a>Next →</a> <a>Last ⇥</a></div>

<div class="h1" style="top:822px">Historical Playtime</div>

<div class="grid hh">
<div>0</div><div>1</div><div>2</div><div>3</div><div>4</div><div>5</div><div>6</div><div>7</div><div>8</div><div>9</div><div>10</div><div>11</div><div>12</div><div>13</div><div>14</div><div>15</div><div>16</div><div>17</div><div>18</div><div>19</div><div>20</div><div>21</div><div>22</div><div>23</div>
</div>

<div class="days"><div>Sunday</div><div>Monday</div><div>Tuesday</div><div>Wednesday</div><div>Thursday</div><div>Friday</div><div>Saturday</div></div>

<div class="grid hm">
<i style="--a:.20">1118</i><i style="--a:.11">600</i><i style="--a:.06">343</i><i style="--a:.11">611</i><i style="--a:.21">1174</i><i style="--a:.19">1039</i><i style="--a:.08">451</i><i style="--a:.01">75</i><i style="--a:.01">47</i><i style="--a:.01">75</i><i style="--a:.02">116</i><i style="--a:.01">67</i><i style="--a:.01">67</i><i style="--a:.02">94</i><i style="--a:.02">102</i><i style="--a:.02">124</i><i style="--a:.03">176</i><i style="--a:.08">448</i><i style="--a:.13">722</i><i style="--a:.25">1348</i><i style="--a:.34">1884</i><i style="--a:.28">1515</i><i style="--a:.12">657</i><i style="--a:.04">242</i>
<i style="--a:.09">507</i><i style="--a:.11">590</i><i style="--a:.12">639</i><i style="--a:.14">795</i><i style="--a:.16">891</i><i style="--a:.11">582</i><i style="--a:.04">201</i><i style="--a:.02">86</i><i style="--a:.01">52</i><i style="--a:.01">75</i><i style="--a:.02">98</i><i style="--a:.01">47</i><i style="--a:.01">58</i><i style="--a:.01">72</i><i style="--a:.02">98</i><i style="--a:.01">81</i><i style="--a:.02">129</i><i style="--a:.02">137</i><i style="--a:.07">378</i><i style="--a:.10">564</i><i style="--a:.14">778</i><i style="--a:.15">847</i><i style="--a:.11">600</i><i style="--a:.06">336</i>
<i style="--a:.03">177</i><i style="--a:.04">233</i><i style="--a:.06">319</i><i style="--a:.12">637</i><i style="--a:.15">797</i><i style="--a:.11">614</i><i style="--a:.04">193</i><i>25</i><i style="--a:.02">84</i><i style="--a:.02">94</i><i style="--a:.02">108</i><i style="--a:.01">72</i><i style="--a:.01">55</i><i style="--a:.01">60</i><i style="--a:.01">33</i><i style="--a:.02">87</i><i style="--a:.01">81</i><i style="--a:.04">227</i><i style="--a:.06">344</i><i style="--a:.09">501</i><i style="--a:.20">1120</i><i style="--a:.27">1471</i><i style="--a:.18">962</i><i style="--a:.04">237</i>
<i style="--a:.04">199</i><i style="--a:.04">233</i><i style="--a:.09">493</i><i style="--a:.15">823</i><i style="--a:.18">997</i><i style="--a:.12">675</i><i style="--a:.05">290</i><i style="--a:.02">90</i><i style="--a:.01">60</i><i style="--a:.01">52</i><i style="--a:.01">78</i><i style="--a:.01">42</i><i>18</i><i>26</i><i style="--a:.01">61</i><i style="--a:.01">80</i><i style="--a:.02">116</i><i style="--a:.02">104</i><i style="--a:.04">209</i><i style="--a:.12">672</i><i style="--a:.26">1428</i><i style="--a:.30">1670</i><i style="--a:.16">904</i><i style="--a:.08">413</i>
<i style="--a:.04">243</i><i style="--a:.06">350</i><i style="--a:.12">665</i><i style="--a:.19">1052</i><i style="--a:.15">810</i><i style="--a:.09">513</i><i style="--a:.04">197</i><i style="--a:.01">43</i><i style="--a:.01">40</i><i style="--a:.01">34</i><i style="--a:.01">73</i><i style="--a:.01">39</i><i style="--a:.01">29</i><i style="--a:.01">38</i><i style="--a:.01">74</i><i style="--a:.02">87</i><i style="--a:.02">131</i><i style="--a:.03">165</i><i style="--a:.07">366</i><i style="--a:.16">901</i><i style="--a:.26">1408</i><i style="--a:.29">1595</i><i style="--a:.19">1044</i><i style="--a:.08">418</i>
<i style="--a:.05">260</i><i style="--a:.05">294</i><i style="--a:.08">427</i><i style="--a:.11">586</i><i style="--a:.15">796</i><i style="--a:.11">581</i><i style="--a:.04">226</i><i style="--a:.01">62</i><i style="--a:.01">41</i><i style="--a:.02">91</i><i style="--a:.01">55</i><i style="--a:.01">60</i><i style="--a:.01">40</i><i style="--a:.01">57</i><i style="--a:.01">71</i><i style="--a:.02">101</i><i style="--a:.02">128</i><i style="--a:.04">206</i><i style="--a:.08">433</i><i style="--a:.22">1222</i><i style="--a:.38">2106</i><i style="--a:.41">2262</i><i style="--a:.35">1927</i><i style="--a:.23">1255</i>
<i style="--a:.12">664</i><i style="--a:.09">520</i><i style="--a:.11">630</i><i style="--a:.19">1020</i><i style="--a:.24">1291</i><i style="--a:.21">1158</i><i style="--a:.12">633</i><i style="--a:.03">166</i><i style="--a:.02">85</i><i style="--a:.02">130</i><i style="--a:.02">108</i><i style="--a:.01">77</i><i style="--a:.02">111</i><i style="--a:.02">121</i><i style="--a:.03">152</i><i style="--a:.06">346</i><i style="--a:.07">383</i><i style="--a:.13">698</i><i style="--a:.20">1102</i><i style="--a:.51">2808</i><i style="--a:.87">4784</i><i style="--a:1">5484</i><i style="--a:.80">4371</i><i style="--a:.42">2281</i>
</div>

<div class="tot">
<div style="text-align:center;font-weight:bold;margin-left:-10px;margin-right:-10px;transform:scaleX(.85)">Total</div>
<div style="margin-top:1px"><b style="width:44.1px"></b><span>13095</span></div>
<div><b style="width:29.1px"></b><span>8641</span></div>
<div><b style="width:28.7px"></b><span>8531</span></div>
<div><b style="width:32.8px"></b><span>9733</span></div>
<div><b style="width:34.7px"></b><span>10315</span></div>
<div><b style="width:44.7px"></b><span>13287</span></div>
<div><b style="width:98px"></b><span>29123</span></div>
</div>

<div class="grid bot">
<div><b></b></div><div><b></b></div><div><b></b></div><div><b></b></div><div><b></b></div><div><b></b></div><div><b></b></div><div><b></b></div><div><b></b></div><div><b></b></div><div><b></b></div><div><b></b></div><div><b></b></div><div><b></b></div><div><b></b></div><div><b></b></div><div><b></b></div><div><b></b></div><div><b></b></div><div><b></b></div><div><b></b></div><div><b></b></div><div><b></b></div><div><b></b></div>
</div>
</div></body></html>
